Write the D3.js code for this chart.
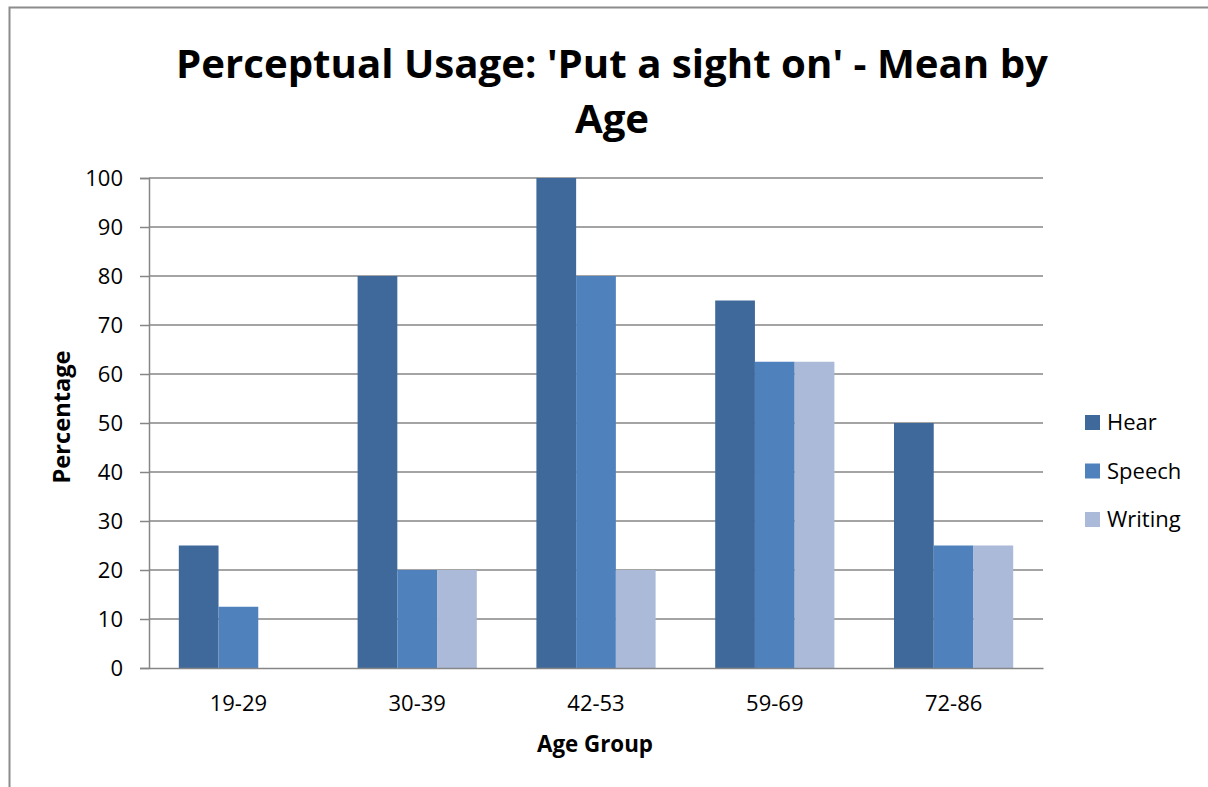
<!DOCTYPE html>
<html>
<head>
<meta charset="utf-8">
<script src="https://cdn.jsdelivr.net/npm/d3@7"></script>
<style>
  html, body { margin: 0; padding: 0; background: #fff; }
  svg { display: block; font-family: "Open Sans", "Noto Sans", sans-serif; }
</style>
</head>
<body>
<svg id="chart" width="1208" height="787"></svg>
<script>
// Chart data
const ageGroups = ["19-29", "30-39", "42-53", "59-69", "72-86"];
const seriesNames = ["Hear", "Speech", "Writing"];
const hear = [25, 80, 100, 75, 50];
const speech = [12.5, 20, 80, 62.5, 25];
const writing = [0, 20, 20, 62.5, 25];
const yTicks = [0, 10, 20, 30, 40, 50, 60, 70, 80, 90, 100];
const seriesColors = ["#40699B", "#4F81BD", "#AABAD8"];

const titleLines = ["Perceptual Usage: 'Put a sight on' - Mean by", "Age"];
const xTitle = "Age Group";
const yTitle = "Percentage";

const seriesValues = [hear, speech, writing];
const rows = ageGroups.map((g, i) => ({
  group: g,
  values: seriesNames.map((s, k) => ({ key: s, value: seriesValues[k][i] }))
}));

const svg = d3.select("#chart");

// Outer frame (left and top edges visible)
svg.append("rect")
  .attr("x", 9.5).attr("y", 7.5)
  .attr("width", 1250).attr("height", 850)
  .attr("fill", "none").attr("stroke", "#8c8c8c").attr("stroke-width", 2);

const plot = { left: 149, right: 1043, top: 178, bottom: 668 };

const x0 = d3.scaleBand().domain(ageGroups).range([plot.left, plot.right]).padding(0);
const x1 = d3.scaleBand().domain(seriesNames).range([0, x0.bandwidth()])
  .paddingInner(0).paddingOuter(0.75);
const y = d3.scaleLinear().domain([0, 100]).range([plot.bottom, plot.top]);
const color = d3.scaleOrdinal().domain(seriesNames).range(seriesColors);

// Horizontal gridlines + y axis
const yAxis = d3.axisLeft(y).tickValues(yTicks).tickSize(9).tickPadding(17).tickFormat(d3.format("d"));
const yg = svg.append("g").attr("transform", `translate(${plot.left},0)`).call(yAxis);
yg.select(".domain").attr("stroke", "#868686").attr("stroke-width", 1.5);
yg.selectAll(".tick line").attr("stroke", "#868686").attr("stroke-width", 1.5);
yg.selectAll(".tick text").attr("font-size", 22).attr("fill", "#000")
  .attr("font-family", "Open Sans");

svg.append("g").selectAll("line.grid")
  .data(yTicks.filter(d => d > 0))
  .join("line")
  .attr("x1", plot.left).attr("x2", plot.right)
  .attr("y1", d => y(d)).attr("y2", d => y(d))
  .attr("stroke", "#868686").attr("stroke-width", 1.5);

// Bars
svg.append("g").selectAll("g")
  .data(rows)
  .join("g")
  .attr("transform", d => `translate(${x0(d.group)},0)`)
  .selectAll("rect")
  .data(d => d.values)
  .join("rect")
  .attr("x", d => x1(d.key))
  .attr("width", x1.bandwidth())
  .attr("y", d => y(d.value))
  .attr("height", d => y(0) - y(d.value))
  .attr("fill", d => color(d.key));

// X axis baseline and category labels
const xAxis = d3.axisBottom(x0).tickSize(0).tickPadding(27);
const xg = svg.append("g").attr("transform", `translate(0,${plot.bottom})`).call(xAxis);
xg.select(".domain").attr("stroke", "#868686").attr("stroke-width", 1.5);
xg.selectAll(".tick text").attr("font-size", 22).attr("fill", "#000")
  .attr("font-family", "Open Sans");

// Fit a text element's font size to a target width
function fitWidth(sel, target) {
  const node = sel.node();
  const fs = parseFloat(sel.attr("font-size"));
  const w = node.getComputedTextLength();
  if (w > 0) sel.attr("font-size", fs * target / w);
}

// Title
const t1 = svg.append("text")
  .attr("x", 612).attr("y", 78)
  .attr("text-anchor", "middle").attr("font-weight", "bold")
  .attr("font-size", 40).attr("fill", "#000")
  .text(titleLines[0]);
fitWidth(t1, 872);
svg.append("text")
  .attr("x", 612).attr("y", 133)
  .attr("text-anchor", "middle").attr("font-weight", "bold")
  .attr("font-size", t1.attr("font-size")).attr("fill", "#000")
  .text(titleLines[1]);

// Axis titles
const xt = svg.append("text")
  .attr("x", 595).attr("y", 752)
  .attr("text-anchor", "middle").attr("font-weight", "bold")
  .attr("font-size", 20).attr("fill", "#000")
  .text(xTitle);
fitWidth(xt, 116);

const yt = svg.append("text")
  .attr("transform", "translate(70,417) rotate(-90)")
  .attr("text-anchor", "middle").attr("font-weight", "bold")
  .attr("font-size", 20).attr("fill", "#000")
  .text(yTitle);
fitWidth(yt, 133);

// Legend
const legend = svg.append("g").attr("transform", "translate(1085,415)");
const li = legend.selectAll("g")
  .data(seriesNames)
  .join("g")
  .attr("transform", (d, i) => `translate(0,${i * 48.5})`);
li.append("rect")
  .attr("width", 15).attr("height", 15)
  .attr("fill", d => color(d));
li.append("text")
  .attr("x", 22).attr("y", 7.5).attr("dy", "0.36em")
  .attr("font-size", 22).attr("fill", "#000")
  .text(d => d);
</script>
</body>
</html>
